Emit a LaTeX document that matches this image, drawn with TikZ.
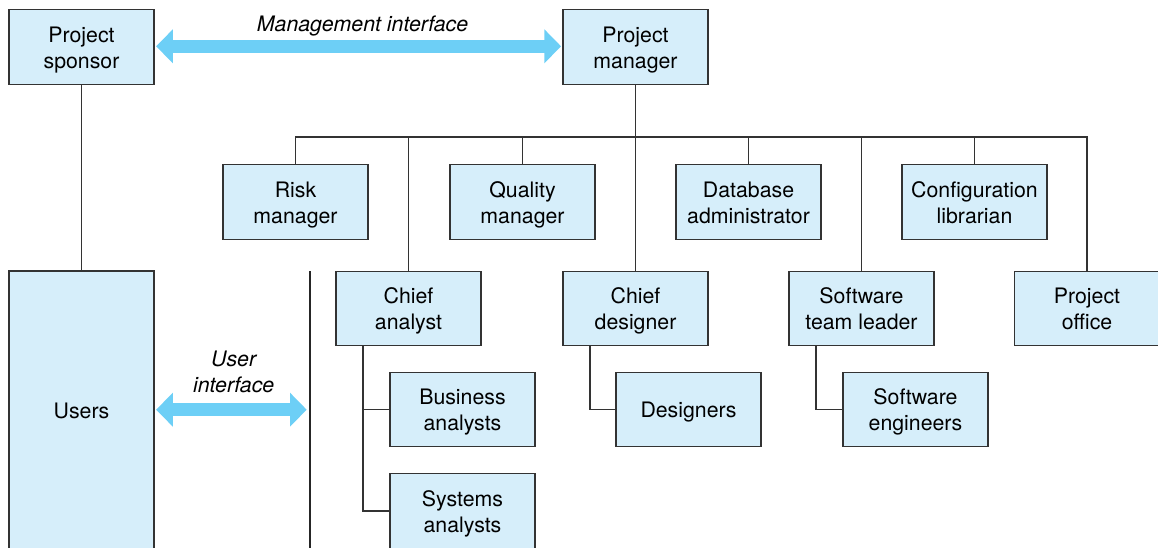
\documentclass[tikz,border=0pt]{standalone}
\usepackage{fontspec}
\setmainfont{TeX Gyre Heros}
\usetikzlibrary{arrows.meta}
\definecolor{boxfill}{HTML}{D6EEFA}
\definecolor{boxline}{HTML}{333333}
\definecolor{arrowblue}{HTML}{6DCFF6}
\newcommand\topstrut{\rule{0pt}{22.6pt}}
\newcommand\botstrut{\rule[-6pt]{0pt}{6pt}}
\newcommand\two[2]{\topstrut #1\\#2\botstrut}
\newcommand\one[1]{\topstrut #1\botstrut}
\tikzset{
  txt/.style={align=center, inner sep=0pt, font=\fontsize{21.3}{26}\selectfont},
  box/.style={txt, draw=boxline, line width=1.3pt, fill=boxfill, minimum width=145pt, minimum height=74.5pt},
  conn/.style={draw=boxline, line width=1.2pt},
  bigarrow/.style={arrowblue, line width=13.5pt, {Triangle[length=16.7pt,width=33pt]}-{Triangle[length=16.7pt,width=33pt]}},
  lbl/.style={txt, font=\fontsize{21.3}{26}\selectfont\itshape}
}
\begin{document}
\begin{tikzpicture}[x=1pt,y=-1pt]
\useasboundingbox (0,0) rectangle (1158,548);
% top row
\node[box] (ps) at (81.5,47) {\two{Project}{sponsor}};
\node[box] (pm) at (635.5,47) {\two{Project}{manager}};
% second row
\node[box] (rm) at (295.5,202) {\two{Risk}{manager}};
\node[box] (qm) at (522.5,202) {\two{Quality}{manager}};
\node[box] (db) at (748.5,202) {\two{Database}{administrator}};
\node[box] (cl) at (974.5,202) {\two{Configuration}{librarian}};
% third row
\node[box, minimum height=278pt] (us) at (81.5,410) {\one{Users}};
\node[box] (ca) at (408.5,308.5) {\two{Chief}{analyst}};
\node[box] (cd) at (635.5,308.5) {\two{Chief}{designer}};
\node[box] (st) at (861.5,308.5) {\two{Software}{team leader}};
\node[box] (po) at (1087,308.5) {\two{Project}{office}};
% fourth row
\node[box] (ba) at (462.5,409.5) {\two{Business}{analysts}};
\node[box] (de) at (688.5,409.5) {\one{Designers}};
\node[box] (se) at (915.5,409.5) {\two{Software}{engineers}};
\node[box] (sy) at (462.5,511) {\two{Systems}{analysts}};
% bus
\coordinate (bus) at (295.5,137);
\draw[conn] (pm.south) -- (cd.north);
\draw[conn] (rm.north) -- (rm.north |- bus) -- (po.north |- bus) -- (po.north);
\draw[conn] (qm.north) -- (qm.north |- bus);
\draw[conn] (db.north) -- (db.north |- bus);
\draw[conn] (cl.north) -- (cl.north |- bus);
\draw[conn] (ca.north) -- (ca.north |- bus);
\draw[conn] (st.north) -- (st.north |- bus);
\draw[conn] (ps.south) -- (us.north);
% sub-trees
\draw[conn] ([xshift=-45.5pt]ca.south) |- (sy.west);
\draw[conn] ([xshift=-45.5pt]ca.south |- ba.west) -- (ba.west);
\draw[conn] ([xshift=-45.5pt]cd.south) |- (de.west);
\draw[conn] ([xshift=-45.5pt]st.south) |- (se.west);
% user boundary line
\coordinate (vt) at (310,271);
\coordinate (vb) at (310,548);
\draw[line width=2.6pt, draw=black!85] (vt) -- (vb);
% interface arrows
\coordinate (ma) at (0,46.3);
\coordinate (ua) at (0,409.7);
\draw[bigarrow] ([xshift=1.5pt]ps.east |- ma) -- ([xshift=-1.3pt]pm.west |- ma);
\draw[bigarrow] ([xshift=1.5pt]us.east |- ua) -- ([xshift=-3.3pt]vt |- ua);
\node[lbl] (mi) at (362.5,23.2) {\one{Management interface}};
\node[lbl] (ui) at (233.7,371.4) {\two{User}{interface}};
\end{tikzpicture}
\end{document}
